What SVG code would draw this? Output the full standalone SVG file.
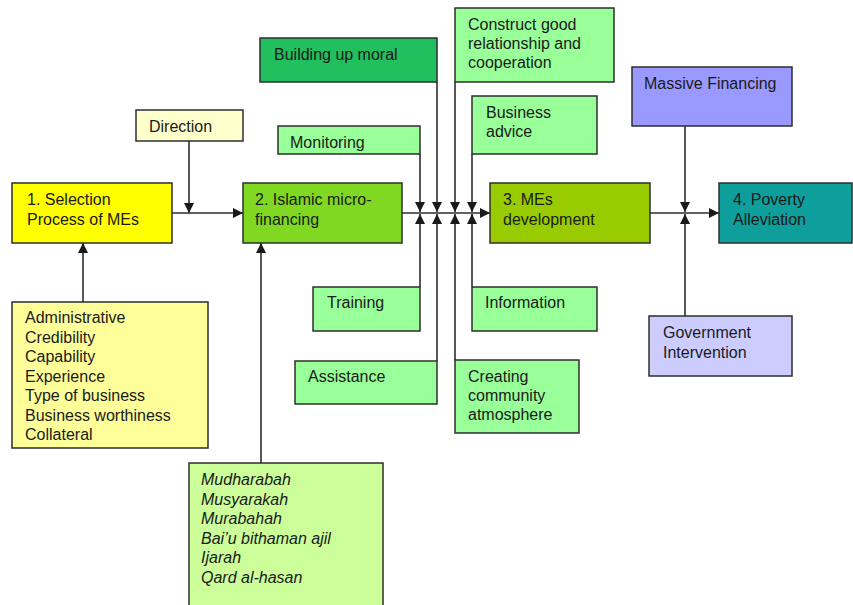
<svg xmlns="http://www.w3.org/2000/svg" width="853" height="605" viewBox="0 0 853 605">
<defs>
<marker id="arr" viewBox="0 0 10 10" markerWidth="10" markerHeight="10" refX="10" refY="5" orient="auto" markerUnits="userSpaceOnUse">
<path d="M0,0 L10,5 L0,10 z" fill="#1a1a1a"/>
</marker>
<style>
.n rect{stroke:#2e2e2e;stroke-width:1.5}
text{font-family:"Liberation Sans",Arial,sans-serif;font-size:16px;fill:#1a1a1a}
.it{font-style:italic}
.c line{stroke:#2e2e2e;stroke-width:1.6;fill:none}
.y1{fill:#FFFF00}
.ylt{fill:#FFFFCC}
.ymd{fill:#FFFF99}
.g2{fill:#80D822}
.gd{fill:#22BF5F}
.gl{fill:#99FF99}
.g3{fill:#99CC00}
.gp{fill:#CCFF99}
.b1{fill:#9999FF}
.b2{fill:#CCCCFF}
.t4{fill:#0E9E9B}
</style>
</defs>
<rect x="0" y="0" width="853" height="605" fill="#fff"/>

<g class="c" id="connectors">
<line x1="172" y1="213" x2="243" y2="213" marker-end="url(#arr)"/>
<line x1="189" y1="141" x2="189" y2="213" marker-end="url(#arr)"/>
<line x1="83" y1="302" x2="83" y2="243" marker-end="url(#arr)"/>
<line x1="261" y1="463" x2="261" y2="243" marker-end="url(#arr)"/>
<line x1="402" y1="213" x2="490" y2="213" marker-end="url(#arr)"/>
<line x1="420" y1="154" x2="420" y2="212" marker-end="url(#arr)"/>
<line x1="437" y1="82" x2="437" y2="212" marker-end="url(#arr)"/>
<line x1="455" y1="82" x2="455" y2="212" marker-end="url(#arr)"/>
<line x1="472" y1="154" x2="472" y2="212" marker-end="url(#arr)"/>
<line x1="420" y1="287" x2="420" y2="214" marker-end="url(#arr)"/>
<line x1="437" y1="361" x2="437" y2="214" marker-end="url(#arr)"/>
<line x1="455" y1="360" x2="455" y2="214" marker-end="url(#arr)"/>
<line x1="472" y1="287" x2="472" y2="214" marker-end="url(#arr)"/>
<line x1="650" y1="213" x2="719" y2="213" marker-end="url(#arr)"/>
<line x1="685" y1="126" x2="685" y2="212" marker-end="url(#arr)"/>
<line x1="685" y1="316" x2="685" y2="214" marker-end="url(#arr)"/>
</g>

<g class="n" id="n1"><rect class="y1" x="12" y="183" width="160" height="60"/>
<text x="27" y="205">1. Selection</text><text x="27" y="225">Process of MEs</text></g>

<g class="n" id="direction"><rect class="ylt" x="136" y="110" width="107" height="31"/>
<text x="149" y="132">Direction</text></g>

<g class="n" id="criteria"><rect class="ymd" x="12" y="302" width="196" height="146"/>
<text x="25" y="323">Administrative</text>
<text x="25" y="342.5">Credibility</text>
<text x="25" y="362">Capability</text>
<text x="25" y="381.5">Experience</text>
<text x="25" y="401">Type of business</text>
<text x="25" y="420.5">Business worthiness</text>
<text x="25" y="440">Collateral</text></g>

<g class="n" id="n2"><rect class="g2" x="243" y="183" width="159" height="60"/>
<text x="255" y="205">2. Islamic micro-</text><text x="255" y="225">financing</text></g>

<g class="n" id="instruments"><rect class="gp" x="189" y="463" width="194" height="150"/>
<text class="it" x="201" y="485">Mudharabah</text>
<text class="it" x="201" y="504.5">Musyarakah</text>
<text class="it" x="201" y="524">Murabahah</text>
<text class="it" x="201" y="543.5">Bai’u bithaman ajil</text>
<text class="it" x="201" y="563">Ijarah</text>
<text class="it" x="201" y="582.5">Qard al-hasan</text></g>

<g class="n" id="moral"><rect class="gd" x="260" y="38" width="177" height="44"/>
<text x="274" y="60">Building up moral</text></g>

<g class="n" id="monitoring"><rect class="gl" x="278" y="126" width="142" height="28"/>
<text x="290" y="148">Monitoring</text></g>

<g class="n" id="construct"><rect class="gl" x="455" y="8" width="159" height="74"/>
<text x="468" y="30">Construct good</text><text x="468" y="49">relationship and</text><text x="468" y="68">cooperation</text></g>

<g class="n" id="advice"><rect class="gl" x="472" y="96" width="125" height="58"/>
<text x="486" y="118">Business</text><text x="486" y="137">advice</text></g>

<g class="n" id="training"><rect class="gl" x="313" y="287" width="107" height="44"/>
<text x="327" y="308">Training</text></g>

<g class="n" id="assistance"><rect class="gl" x="295" y="361" width="142" height="43"/>
<text x="308" y="382">Assistance</text></g>

<g class="n" id="community"><rect class="gl" x="455" y="360" width="124" height="73"/>
<text x="468" y="382">Creating</text><text x="468" y="401">community</text><text x="468" y="420">atmosphere</text></g>

<g class="n" id="information"><rect class="gl" x="472" y="287" width="125" height="44"/>
<text x="485" y="308">Information</text></g>

<g class="n" id="n3"><rect class="g3" x="490" y="183" width="160" height="60"/>
<text x="503" y="205">3. MEs</text><text x="503" y="225">development</text></g>

<g class="n" id="massive"><rect class="b1" x="632" y="67" width="160" height="59"/>
<text x="644" y="89">Massive Financing</text></g>

<g class="n" id="government"><rect class="b2" x="649" y="316" width="143" height="60"/>
<text x="663" y="338">Government</text><text x="663" y="358">Intervention</text></g>

<g class="n" id="n4"><rect class="t4" x="719" y="183" width="133" height="60"/>
<text x="733" y="205">4. Poverty</text><text x="733" y="225">Alleviation</text></g>
</svg>
